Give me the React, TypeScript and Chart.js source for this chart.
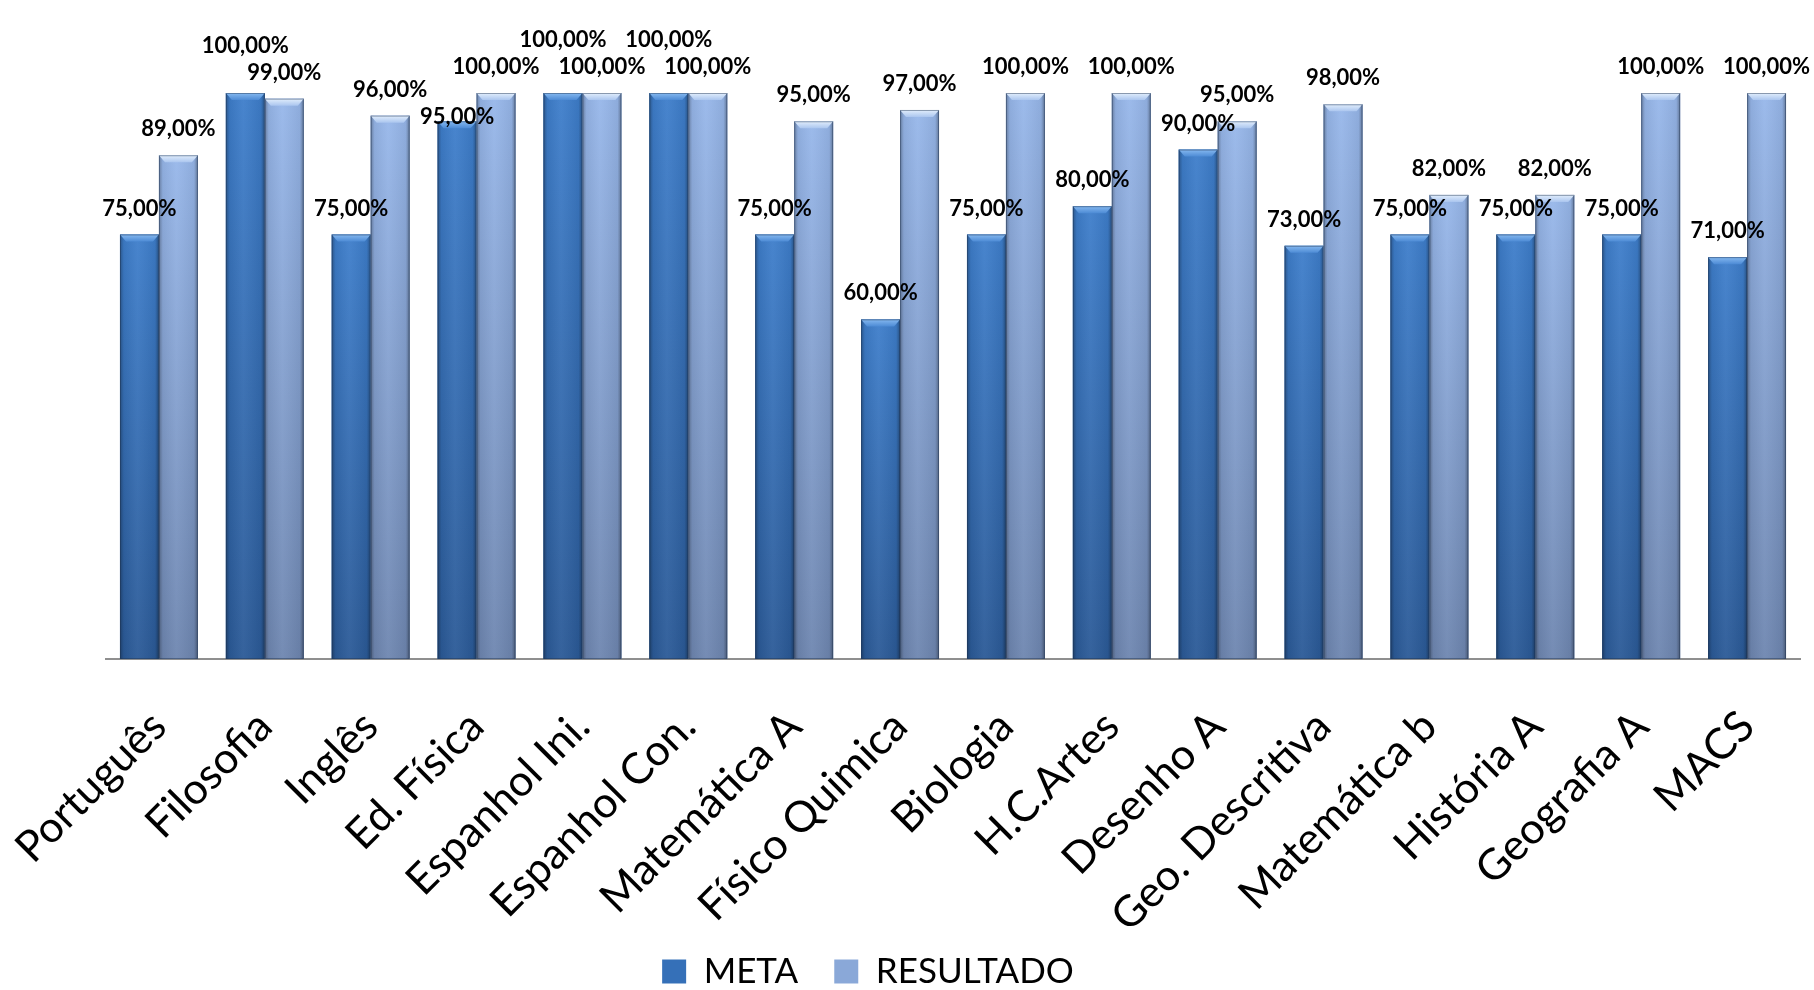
import { useEffect, useRef } from "react";
import { Chart, registerables } from "chart.js";

Chart.register(...registerables);

const categories = [
  "Português",
  "Filosofia",
  "Inglês",
  "Ed. Física",
  "Espanhol Ini.",
  "Espanhol Con.",
  "Matemática A",
  "Físico Quimica",
  "Biologia",
  "H.C.Artes",
  "Desenho A",
  "Geo. Descritiva",
  "Matemática b",
  "História A",
  "Geografia A",
  "MACS",
];
const metaValues = [75, 100, 75, 95, 100, 100, 75, 60, 75, 80, 90, 73, 75, 75, 75, 71];
const resultadoValues = [89, 99, 96, 100, 100, 100, 95, 97, 100, 100, 95, 98, 82, 82, 100, 100];
const seriesNames = ["META", "RESULTADO"];

const FONT = "Lato, 'Open Sans', sans-serif";

const fmt = (v: number) => v.toFixed(2).replace(".", ",") + "%";

const palette = [
  { top: "#3e7ecb", bottom: "#2b5a97", capTop: "#86b9f0", capBottom: "#4d8bd5", solid: "#3570b8" },
  { top: "#97b7ea", bottom: "#6e86b0", capTop: "#e2eefc", capBottom: "#abc6ef", solid: "#8aa8d8" },
];

const barStylePlugin = {
  id: "barStyle",
  afterDatasetsDraw(chart: any) {
    const ctx = chart.ctx;
    chart.data.datasets.forEach((_ds: any, di: number) => {
      const meta = chart.getDatasetMeta(di);
      const p = palette[di];
      meta.data.forEach((el: any) => {
        const { x, y, base, width } = el.getProps(["x", "y", "base", "width"], true);
        const left = x - width / 2;
        const right = x + width / 2;
        const top = y;
        const bottom = base;
        ctx.save();
        const g = ctx.createLinearGradient(0, top, 0, bottom);
        g.addColorStop(0, p.top);
        g.addColorStop(1, p.bottom);
        ctx.fillStyle = g;
        ctx.fillRect(left, top, width, bottom - top);
        const hg = ctx.createLinearGradient(left, 0, right, 0);
        hg.addColorStop(0, "rgba(0,0,0,0.30)");
        hg.addColorStop(0.1, "rgba(0,0,0,0.06)");
        hg.addColorStop(0.45, "rgba(255,255,255,0.05)");
        hg.addColorStop(0.9, "rgba(0,0,0,0.06)");
        hg.addColorStop(1, "rgba(0,0,0,0.34)");
        ctx.fillStyle = hg;
        ctx.fillRect(left, top, width, bottom - top);
        const b = 7;
        const inset = 6;
        const cg = ctx.createLinearGradient(0, top, 0, top + b);
        cg.addColorStop(0, p.capTop);
        cg.addColorStop(1, p.capBottom);
        ctx.beginPath();
        ctx.moveTo(left, top);
        ctx.lineTo(right, top);
        ctx.lineTo(right - inset, top + b);
        ctx.lineTo(left + inset, top + b);
        ctx.closePath();
        ctx.fillStyle = cg;
        ctx.fill();
        ctx.strokeStyle = "rgba(30,50,80,0.45)";
        ctx.lineWidth = 1;
        ctx.strokeRect(left + 0.5, top + 0.5, width - 1, bottom - top - 1);
        ctx.restore();
      });
    });
  },
};

const dataLabelPlugin = {
  id: "dataLabels",
  afterDatasetsDraw(chart: any) {
    const ctx = chart.ctx;
    ctx.save();
    ctx.font = `bold 22px ${FONT}`;
    ctx.fillStyle = "#000";
    ctx.textAlign = "center";
    ctx.textBaseline = "middle";
    const placed: { x: number; y: number; w: number }[] = [];
    const items: { x: number; y: number; text: string }[] = [];
    const collides = (x: number, y: number, w: number) =>
      placed.filter((q) => Math.abs(q.x - x) < (q.w + w) / 2 - 2 && Math.abs(q.y - y) < 23);
    [1, 0].forEach((di) => {
      const meta = chart.getDatasetMeta(di);
      const ds = chart.data.datasets[di];
      meta.data.forEach((el: any, i: number) => {
        const text = fmt(ds.data[i]);
        const w = ctx.measureText(text).width;
        const y0 = el.y - 26;
        let ly = y0;
        if (collides(el.x, y0, w).length) {
          let up = y0;
          let hit = collides(el.x, up, w);
          while (hit.length) {
            up = Math.min(...hit.map((q) => q.y)) - 27;
            hit = collides(el.x, up, w);
          }
          let down = y0;
          hit = collides(el.x, down, w);
          while (hit.length) {
            down = Math.max(...hit.map((q) => q.y)) + 27;
            hit = collides(el.x, down, w);
          }
          ly = down - y0 < 0.7 * (y0 - up) ? down : up;
        }
        placed.push({ x: el.x, y: ly, w });
        items.push({ x: el.x, y: ly, text });
      });
    });
    items.forEach((it) => ctx.fillText(it.text, it.x, it.y));
    ctx.restore();
  },
};

const layoutTweakPlugin = {
  id: "layoutTweak",
  beforeDraw(chart: any) {
    const xs = chart.scales.x;
    if (xs) xs.bottom = chart.height;
    const lg = chart.legend;
    if (lg && !lg._shifted) {
      lg.left -= 85;
      lg.right -= 85;
      lg.top += 9;
      lg.bottom += 9;
      lg._shifted = true;
    }
  },
  afterUpdate(chart: any) {
    if (chart.legend) chart.legend._shifted = false;
  },
};

export default function App() {
  const ref = useRef<HTMLCanvasElement | null>(null);
  useEffect(() => {
    if (!ref.current) return;
    const chart = new Chart(ref.current, {
      type: "bar",
      data: {
        labels: categories,
        datasets: [
          {
            label: seriesNames[0],
            data: metaValues,
            backgroundColor: palette[0].solid,
            borderWidth: 0,
            categoryPercentage: 0.736,
            barPercentage: 1,
          },
          {
            label: seriesNames[1],
            data: resultadoValues,
            backgroundColor: palette[1].solid,
            borderWidth: 0,
            categoryPercentage: 0.736,
            barPercentage: 1,
          },
        ],
      },
      options: {
        responsive: false,
        animation: false,
        layout: { padding: { left: 106, right: 14, top: 93, bottom: 0 } },
        scales: {
          x: {
            grid: { display: false },
            border: { display: true, color: "#8f8f8f", width: 2 },
            ticks: {
              autoSkip: false,
              maxRotation: 45,
              minRotation: 45,
              padding: 34,
              color: "#000",
              font: { family: FONT, size: 43 },
            },
            afterFit: (scale: any) => {
              scale.height = 250;
              scale.paddingLeft = 0;
              scale.paddingRight = 0;
            },
          },
          y: {
            display: false,
            min: 0,
            max: 100,
          },
        },
        plugins: {
          legend: {
            position: "bottom",
            labels: {
              color: "#000",
              font: { family: FONT, size: 35 },
              boxWidth: 24,
              boxHeight: 24,
              padding: 36,
            },
          },
          tooltip: { enabled: false },
        },
      },
      plugins: [barStylePlugin, dataLabelPlugin, layoutTweakPlugin],
    });
    return () => chart.destroy();
  }, []);
  return (
    <div style={{ position: "absolute", left: 0, top: 0, width: 1814, height: 990, background: "#fff" }}>
      <canvas ref={ref} width={1814} height={990} />
    </div>
  );
}
